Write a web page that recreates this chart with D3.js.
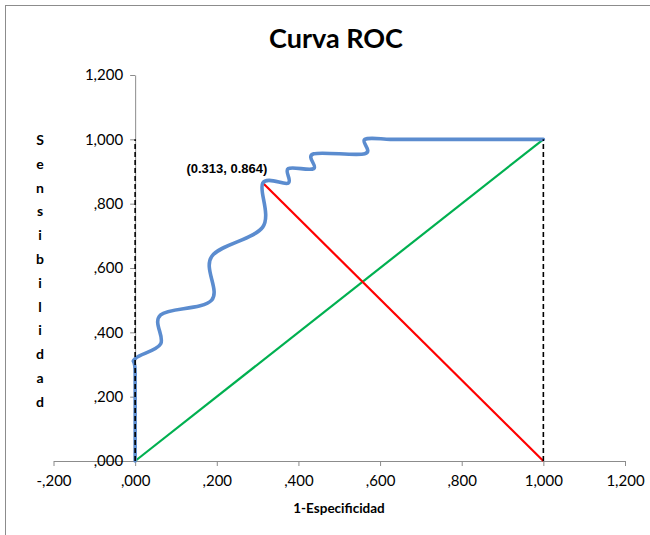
<!DOCTYPE html>
<html>
<head>
<meta charset="utf-8">
<script src="https://cdn.jsdelivr.net/npm/d3@7"></script>
<style>
  html, body { margin: 0; padding: 0; background: #fff; }
  svg { display: block; }
</style>
</head>
<body>
<svg id="chart" width="650" height="535"></svg>
<script>
// ---- data ----
const rocX = [0, 0, 0, 0.0625, 0.0625, 0.1875, 0.1875, 0.3125, 0.3125, 0.375, 0.375, 0.4375, 0.4375, 0.5625, 0.5625, 0.625, 0.6875, 0.75, 0.8125, 0.875, 0.9375, 1.0];
const rocY = [0, 0.273, 0.318, 0.364, 0.4545, 0.5, 0.636, 0.727, 0.864, 0.864, 0.909, 0.909, 0.955, 0.955, 1.0, 1.0, 1.0, 1.0, 1.0, 1.0, 1.0, 1.0];
const diagX = [0, 1];
const diagY = [0, 1];
const cutX = [0.313, 1];
const cutY = [0.864, 0];
const refLeftX = [0, 0];
const refLeftY = [0, 1];
const refRightX = [1, 1];
const refRightY = [0, 1];
const xTickValues = [-0.2, 0, 0.2, 0.4, 0.6, 0.8, 1.0, 1.2];
const xTickLabels = ["-,200", ",000", ",200", ",400", ",600", ",800", "1,000", "1,200"];
const yTickValues = [0, 0.2, 0.4, 0.6, 0.8, 1.0, 1.2];
const yTickLabels = [",000", ",200", ",400", ",600", ",800", "1,000", "1,200"];
const titleText = "Curva ROC";
const xTitle = "1-Especificidad";
const yTitle = "Sensibilidad";
const annotation = "(0.313, 0.864)";

// ---- drawing ----
const svg = d3.select("#chart");
const font = "Lato, 'Open Sans', sans-serif";

svg.append("rect").attr("x", 5.5).attr("y", 5.5).attr("width", 700).attr("height", 600)
  .attr("fill", "#fff").attr("stroke", "#8c8c8c").attr("stroke-width", 1);

const x = d3.scaleLinear().domain([-0.2, 1.2]).range([53.5, 625]);
const y = d3.scaleLinear().domain([0, 1.2]).range([461, 75]);

// title
svg.append("text").attr("x", 336).attr("y", 48).attr("text-anchor", "middle")
  .attr("font-family", font).attr("font-weight", "bold").attr("font-size", 27)
  .attr("fill", "#000").text(titleText);

// x axis at y=0
const xAxis = d3.axisBottom(x).tickValues(xTickValues)
  .tickFormat((d, i) => xTickLabels[i]).tickSize(5).tickSizeOuter(0);
const gx = svg.append("g").attr("transform", `translate(0,${y(0)})`).call(xAxis);
gx.select(".domain").attr("stroke", "#8c8c8c");
gx.selectAll(".tick line").attr("stroke", "#8c8c8c");
gx.selectAll(".tick text").attr("font-family", font).attr("font-size", 15)
  .attr("fill", "#000").attr("dy", "1.1em");

// y axis at x=0
const yAxis = d3.axisLeft(y).tickValues(yTickValues)
  .tickFormat((d, i) => yTickLabels[i]).tickSize(5).tickSizeOuter(0);
const gy = svg.append("g").attr("transform", `translate(${x(0)},0)`).call(yAxis);
gy.select(".domain").attr("stroke", "#8c8c8c");
gy.selectAll(".tick line").attr("stroke", "#8c8c8c");
gy.selectAll(".tick text").attr("font-family", font).attr("font-size", 15)
  .attr("fill", "#000").attr("x", -12);

// axis titles
svg.append("text").attr("x", 339).attr("y", 513).attr("text-anchor", "middle")
  .attr("font-family", font).attr("font-weight", "bold").attr("font-size", 13.5)
  .attr("fill", "#000").text(xTitle);

const letters = yTitle.split("");
svg.append("g").selectAll("text").data(letters).join("text")
  .attr("x", 40).attr("y", (d, i) => 145 + i * 23.8)
  .attr("text-anchor", "middle")
  .attr("font-family", font).attr("font-weight", "bold").attr("font-size", 14)
  .attr("fill", "#000").text(d => d);

const line = d3.line().x(d => x(d[0])).y(d => y(d[1]));
const zipPts = (a, b) => a.map((v, i) => [v, b[i]]);

// green diagonal
svg.append("path").attr("d", line(zipPts(diagX, diagY)))
  .attr("fill", "none").attr("stroke", "#00B050").attr("stroke-width", 2.2);
// red cut line
svg.append("path").attr("d", line(zipPts(cutX, cutY)))
  .attr("fill", "none").attr("stroke", "#FF0000").attr("stroke-width", 2.2);

// ROC curve (smoothed)
const smooth = d3.line().x(d => x(d[0])).y(d => y(d[1])).curve(d3.curveCatmullRom.alpha(0));
svg.append("path").attr("d", smooth(zipPts(rocX, rocY)))
  .attr("fill", "none").attr("stroke", "#5B8CCF").attr("stroke-width", 3.6)
  .attr("stroke-linejoin", "round").attr("stroke-linecap", "round");

// dashed reference lines
[[refLeftX, refLeftY], [refRightX, refRightY]].forEach(([a, b]) => {
  svg.append("path").attr("d", line(zipPts(a, b)))
    .attr("fill", "none").attr("stroke", "#000").attr("stroke-width", 1.6)
    .attr("stroke-dasharray", "5,3");
});

// annotation
svg.append("text").attr("x", x(0.313) - 36).attr("y", y(0.864) - 10)
  .attr("text-anchor", "middle")
  .attr("font-family", "'Liberation Sans', Arial, sans-serif").attr("font-weight", "bold")
  .attr("font-size", 13).attr("fill", "#000").text(annotation);
</script>
</body>
</html>
